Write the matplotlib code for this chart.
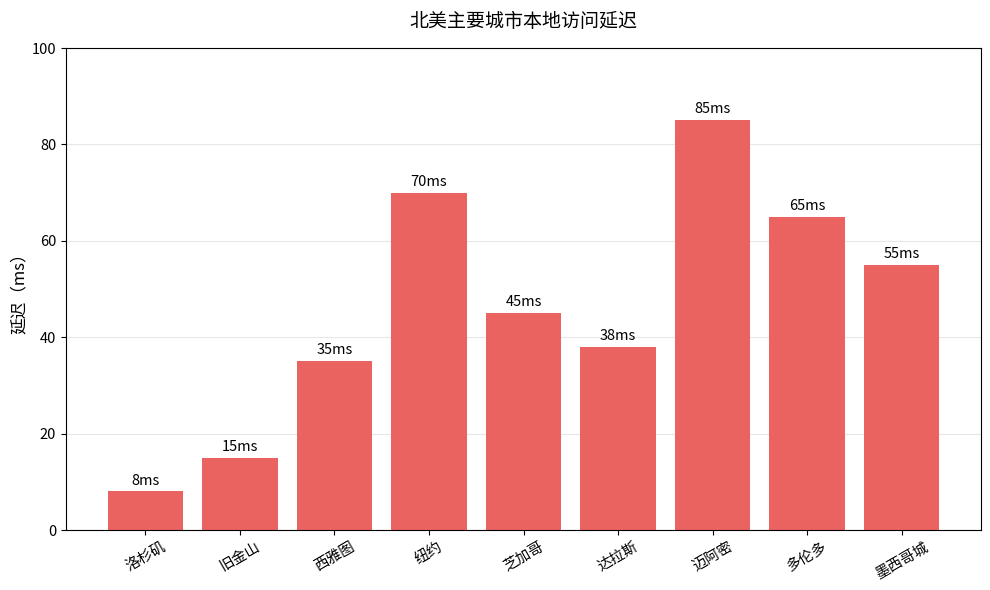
import matplotlib
matplotlib.use("Agg")
import matplotlib.pyplot as plt

plt.rcParams['font.family'] = ['Noto Sans CJK SC', 'DejaVu Sans']

cities = ['洛杉矶', '旧金山', '西雅图', '纽约', '芝加哥', '达拉斯', '迈阿密', '多伦多', '墨西哥城']
latency = [8, 15, 35, 70, 45, 38, 85, 65, 55]

fig, ax = plt.subplots(figsize=(9.9, 5.9), dpi=100)
bars = ax.bar(cities, latency, color='#ea6360', width=0.8)
for b, v in zip(bars, latency):
    ax.text(b.get_x() + b.get_width() / 2, v + 0.8, f'{v}ms', ha='center', va='bottom', fontsize=10.5)
ax.set_ylim(0, 100)
ax.set_ylabel('延迟（ms）', fontsize=12, labelpad=2.5)
ax.set_title('北美主要城市本地访问延迟', fontsize=13.7, pad=15)
ax.grid(axis='y', alpha=0.3)
ax.set_axisbelow(True)
ax.tick_params(axis='both', labelsize=10.5)
plt.setp(ax.get_xticklabels(), rotation=30)
fig.subplots_adjust(left=66/990, right=981/990, top=1-48/590, bottom=1-530/590)
fig.savefig('out.png')
